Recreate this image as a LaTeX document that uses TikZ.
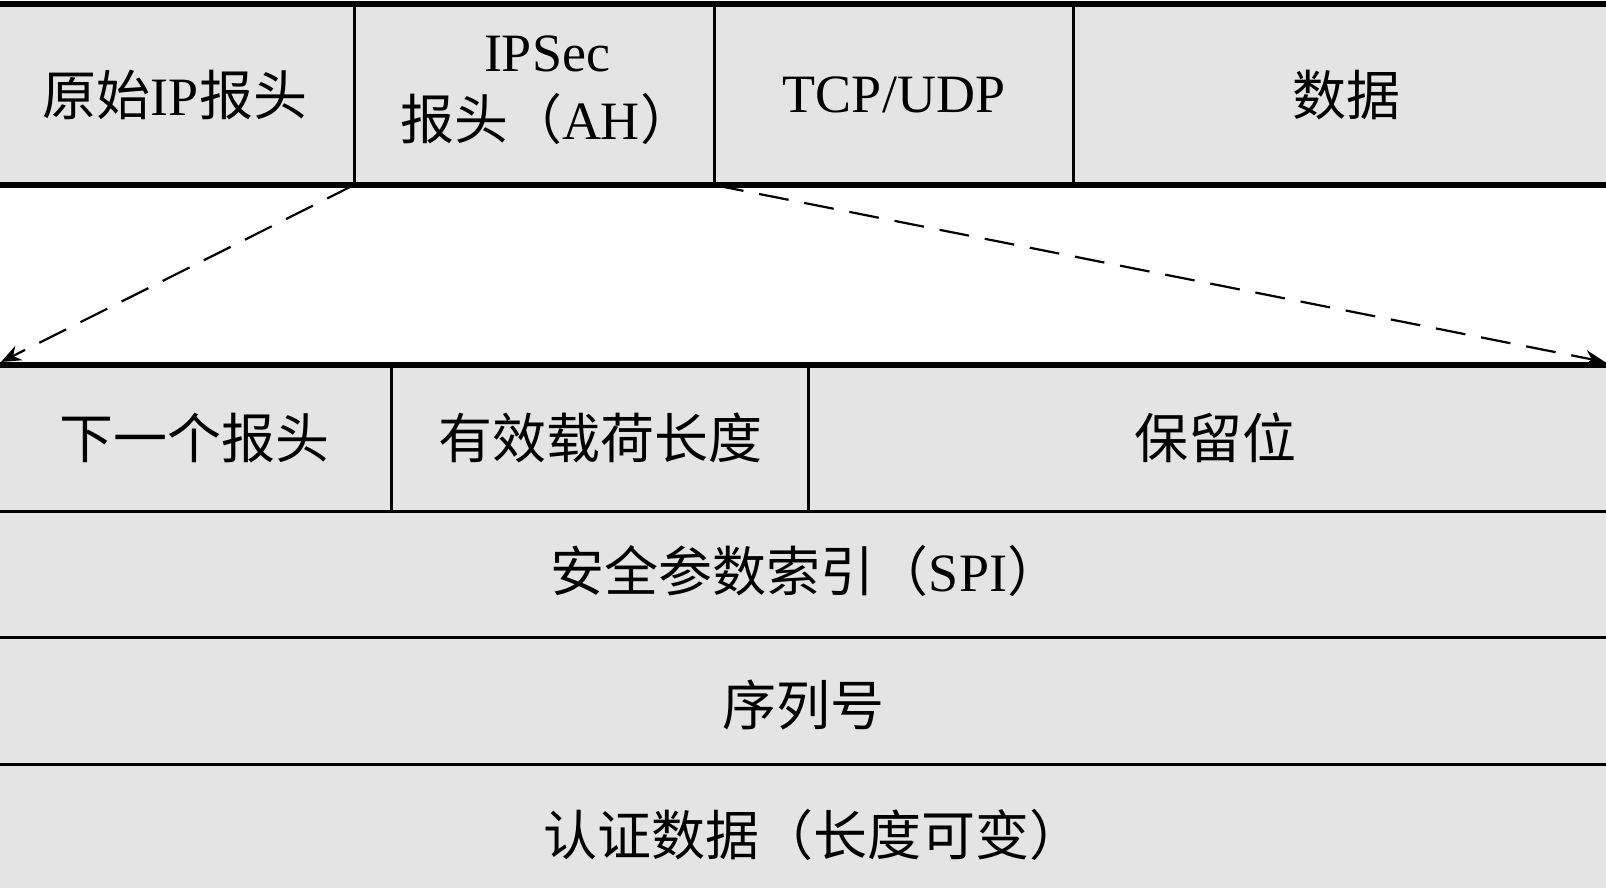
\documentclass[tikz,border=0pt]{standalone}
\usepackage{fontspec}
\setmainfont{Liberation Serif}
\newfontfamily\cjk{Noto Sans CJK SC}
\usetikzlibrary{arrows.meta}
\definecolor{cellgray}{HTML}{E4E4E4}
\tikzset{
  cellfill/.style={fill=cellgray},
  heavyrule/.style={draw=black,line width=2.6pt},
  lightrule/.style={draw=black,line width=1.5pt},
  label/.style={inner sep=0pt,font=\fontsize{27pt}{34pt}\selectfont,align=center},
  zoomarrow/.style={draw=black,line width=1.1pt,dash pattern=on 15pt off 8pt,
    -{Stealth[length=10pt,width=8pt]}}
}
\begin{document}
\begin{tikzpicture}[x=0.5pt,y=-0.5pt]
\useasboundingbox (0,0) rectangle (1606,888);
\clip (0,0) rectangle (1606,888);
% backgrounds
\fill[cellfill] (-20,4) rectangle (1630,185);
\fill[cellfill] (-20,365) rectangle (1630,910);
% top packet
\draw[heavyrule] (-20,4) -- (1630,4);
\draw[heavyrule] (-20,185) -- (1630,185);
\draw[lightrule] (354,4) -- (354,185);
\draw[lightrule] (714,4) -- (714,185);
\draw[lightrule] (1073,4) -- (1073,185);
% AH header
\draw[heavyrule] (-20,365) -- (1630,365);
\draw[lightrule] (-20,511) -- (1630,511);
\draw[lightrule] (-20,637) -- (1630,637);
\draw[lightrule] (-20,764) -- (1630,764);
\draw[lightrule] (391,365) -- (391,511);
\draw[lightrule] (808,365) -- (808,511);
% labels
\node[label] (ipsrc) at (175,95) {{\cjk 原始}IP{\cjk 报头}};
\node[label] (ah) at (547,90) {IPSec\\{\cjk 报头（}AH{\cjk ）}};
\node[label] (tcp) at (894,95) {TCP/UDP};
\node[label] (data) at (1346,95) {{\cjk 数据}};
\node[label] (next) at (194,438) {{\cjk 下一个报头}};
\node[label] (plen) at (600,438) {{\cjk 有效载荷长度}};
\node[label] (resv) at (1215,438) {{\cjk 保留位}};
\node[label] (spi) at (806,571) {{\cjk 安全参数索引（}SPI{\cjk ）}};
\node[label] (seq) at (803,705) {{\cjk 序列号}};
\node[label] (auth) at (813,835) {{\cjk 认证数据（长度可变）}};
% expansion arrows
\coordinate (ahleft) at (354,185);
\coordinate (ahright) at (714,185);
\coordinate (fieldleft) at (1,362);
\coordinate (fieldright) at (1605,362);
\draw[zoomarrow] (ahleft) -- (fieldleft);
\draw[zoomarrow] (ahright) -- (fieldright);
\end{tikzpicture}
\end{document}
